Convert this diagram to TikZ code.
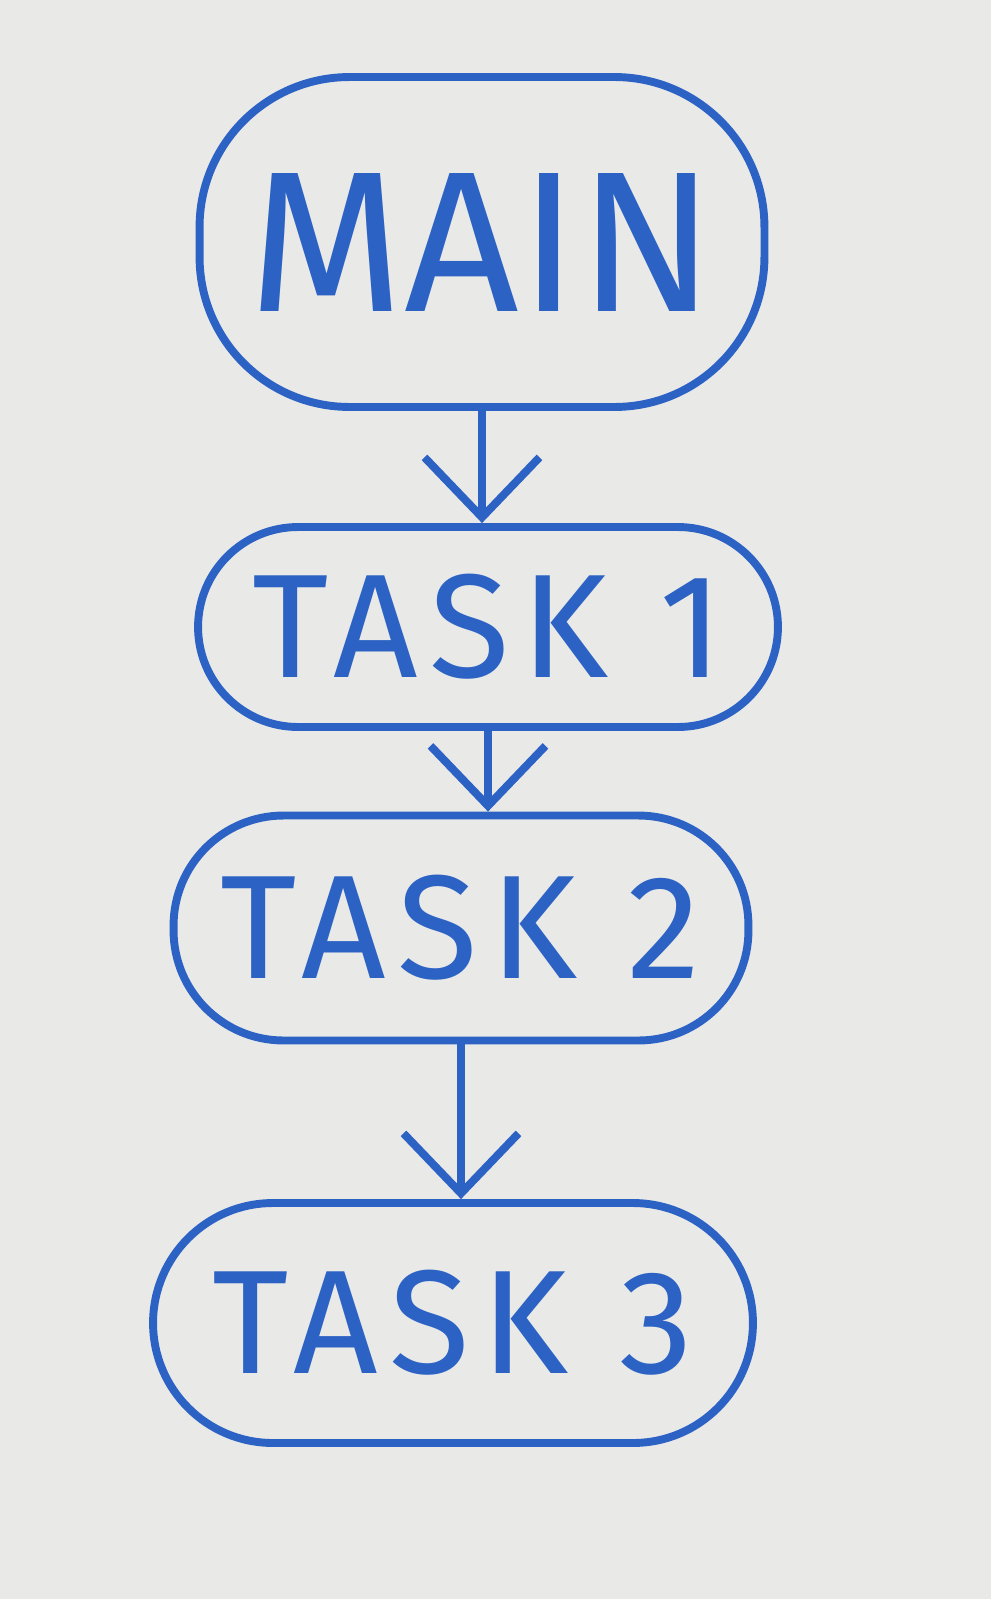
\documentclass[tikz,border=0pt]{standalone}
\usepackage{fontspec}
\setmainfont{Fira Sans}
\newfontfamily\widefont[LetterSpace=8]{Fira Sans}
\usetikzlibrary{arrows.meta}
\definecolor{pen}{HTML}{2B62C4}
\definecolor{paper}{HTML}{E9E9E8}
\tikzset{
  taskbox/.style={draw=pen, line width=4.5pt, rounded corners=2.2cm, text=pen,
    font=\widefont\fontsize{84}{84}\selectfont, minimum height=4.4cm, inner sep=0pt},
  arr/.style={draw=pen, line width=4.5pt, line cap=round,
    -{Straight Barb[length=1.2cm, width=2.3cm, line width=4.5pt]}}
}
\begin{document}
\begin{tikzpicture}[x=0.02cm, y=-0.02cm]
  \fill[paper] (0,0) rectangle (991,1599);
  \useasboundingbox (0,0) rectangle (991,1599);
  \node[taskbox, minimum width=11.3cm, minimum height=6.6cm, rounded corners=3cm,
        font=\fontsize{114}{114}\selectfont] (main) at (482,242) {MAIN};
  \node[taskbox, minimum width=11.6cm, minimum height=4.0cm, rounded corners=2cm] (t1) at (488,627) {TASK 1};
  \node[taskbox, minimum width=11.5cm, minimum height=4.5cm] (t2) at (461,928) {TASK 2};
  \node[taskbox, minimum width=12.0cm, minimum height=4.8cm, rounded corners=2.4cm] (t3) at (453,1323) {TASK 3};
  \draw[arr] (main.south) -- (main.south |- t1.north);
  \draw[arr] (t1.south) -- (t1.south |- t2.north);
  \draw[arr] (t2.south) -- (t2.south |- t3.north);
\end{tikzpicture}
\end{document}
